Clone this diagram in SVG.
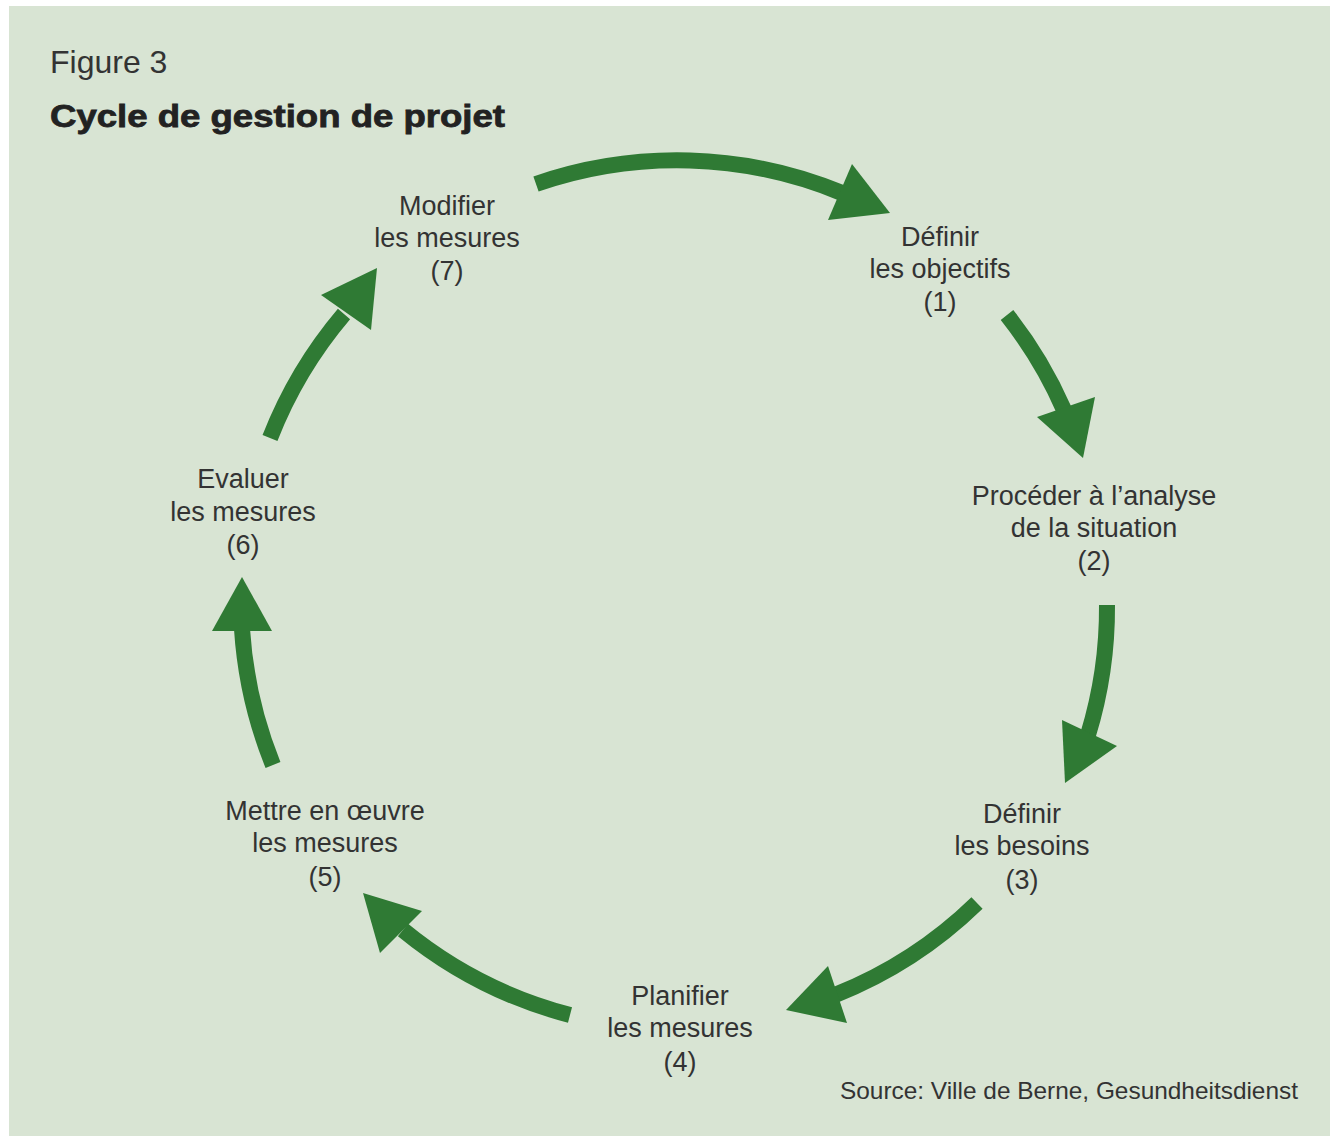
<svg xmlns="http://www.w3.org/2000/svg" width="1330" height="1138" viewBox="0 0 1330 1138">
<style>
.lbl{font-family:"Liberation Sans",Arial,sans-serif;font-size:27px;fill:#333;text-anchor:middle}
.shaft{fill:none;stroke:#2f7a34;stroke-width:16}
.head{fill:#2f7a34}
</style>
<rect x="0" y="0" width="1330" height="1138" fill="#ffffff"/>
<rect x="9" y="6" width="1321" height="1130" fill="#d8e4d3"/>
<text x="50" y="73" font-family="'Liberation Sans',Arial,sans-serif" font-size="32" fill="#333">Figure 3</text>
<text x="50" y="127" font-family="'Liberation Sans',Arial,sans-serif" font-size="32" font-weight="bold" fill="#222" stroke="#222" stroke-width="0.8" textLength="455" lengthAdjust="spacingAndGlyphs">Cycle de gestion de projet</text>
<g id="connectors">
<g id="a1"><path class="shaft" d="M536,184 A432,432 0 0 1 842,193"/><polygon class="head" points="852,164 890,213 828,220"/></g>
<g id="a2"><path class="shaft" d="M1007,315 A432,432 0 0 1 1064,410"/><polygon class="head" points="1037,417 1095,397 1083,458"/></g>
<g id="a3"><path class="shaft" d="M1107,605 A432,432 0 0 1 1088,735"/><polygon class="head" points="1062,720 1117,746 1065,783"/></g>
<g id="a4"><path class="shaft" d="M977,903 A432,432 0 0 1 835,995"/><polygon class="head" points="828,966 847,1023 786,1010"/></g>
<g id="a5"><path class="shaft" d="M570,1015 A437,437 0 0 1 403,930"/><polygon class="head" points="363,893 422,911 380,953"/></g>
<g id="a6"><path class="shaft" d="M273,765 A437,437 0 0 1 242,629"/><polygon class="head" points="242,577 212,631 272,631"/></g>
<g id="a7"><path class="shaft" d="M270,438 A437,437 0 0 1 344,314"/><polygon class="head" points="377,268 321,295 371,330"/></g>
</g>
<g id="n7"><text class="lbl" x="447" y="215">Modifier</text><text class="lbl" x="447" y="247">les mesures</text><text class="lbl" x="447" y="280">(7)</text></g>
<g id="n1"><text class="lbl" x="940" y="246">Définir</text><text class="lbl" x="940" y="278">les objectifs</text><text class="lbl" x="940" y="311">(1)</text></g>
<g id="n2"><text class="lbl" x="1094" y="505">Procéder à l’analyse</text><text class="lbl" x="1094" y="537">de la situation</text><text class="lbl" x="1094" y="570">(2)</text></g>
<g id="n3"><text class="lbl" x="1022" y="823">Définir</text><text class="lbl" x="1022" y="855">les besoins</text><text class="lbl" x="1022" y="889">(3)</text></g>
<g id="n4"><text class="lbl" x="680" y="1005">Planifier</text><text class="lbl" x="680" y="1037">les mesures</text><text class="lbl" x="680" y="1071">(4)</text></g>
<g id="n5"><text class="lbl" x="325" y="820">Mettre en œuvre</text><text class="lbl" x="325" y="852">les mesures</text><text class="lbl" x="325" y="886">(5)</text></g>
<g id="n6"><text class="lbl" x="243" y="488">Evaluer</text><text class="lbl" x="243" y="521">les mesures</text><text class="lbl" x="243" y="554">(6)</text></g>
<text x="840" y="1099" font-family="'Liberation Sans',Arial,sans-serif" font-size="24" fill="#333" textLength="458" lengthAdjust="spacingAndGlyphs">Source: Ville de Berne, Gesundheitsdienst</text>
</svg>
